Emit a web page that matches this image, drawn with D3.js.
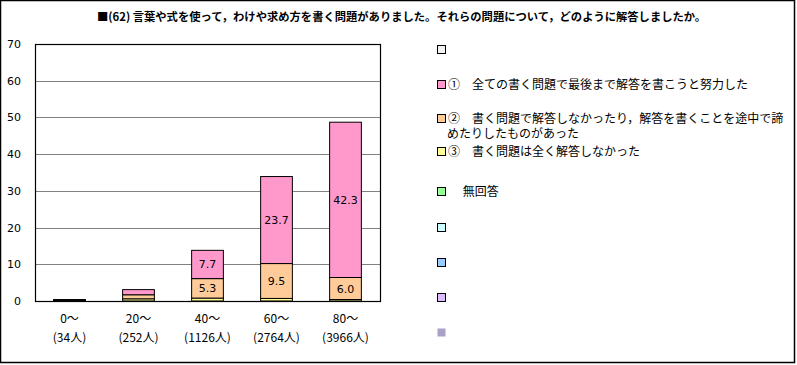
<!DOCTYPE html>
<html><head><meta charset="utf-8">
<script src="https://cdn.jsdelivr.net/npm/d3@7"></script>
<style>body{margin:0;background:#fff}svg{display:block}</style>
</head><body>
<script>
const title = "■(62)  言葉や式を使って，わけや求め方を書く問題がありました。それらの問題について，どのように解答しましたか。";
const categories = ["0～", "20～", "40～", "60～", "80～"];
const counts = ["(34人)", "(252人)", "(1126人)", "(2764人)", "(3966人)"];
// series (stack order bottom -> top)
const s3 = [0.2, 0.6, 0.8, 0.7, 0.4];      // ③
const s2 = [0.1, 1.1, 5.3, 9.5, 6.0];      // ②
const s1 = [0.1, 1.4, 7.7, 23.7, 42.3];    // ①
const sNA = [0.0, 0.0, 0.0, 0.0, 0.0];     // 無回答
const yTicks = [0, 10, 20, 30, 40, 50, 60, 70];
const legendNames = ["", "①　全ての書く問題で最後まで解答を書こうと努力した",
  "②　書く問題で解答しなかったり，解答を書くことを途中で諦|めたりしたものがあった",
  "③　書く問題は全く解答しなかった", "　 無回答", "", "", "", ""];
const legendColors = ["#f2f2f2", "#ff99cc", "#ffcc99", "#ffff99", "#99ff99", "#ccffff", "#99ccff", "#ddbbff", "#aaa0c8"];
const legendY = [49, 84, 118, 151, 191, 227, 262, 297, 332];

const W = 797, H = 365;
const svg = d3.select("body").append("svg").attr("width", W).attr("height", H);
svg.append("rect").attr("x", 0.5).attr("y", 0.5).attr("width", 794).attr("height", 362)
  .attr("fill", "#fff").attr("stroke", "#000").attr("stroke-width", 1.5);

svg.append("text").attr("x", 97).attr("y", 21).attr("font-family", "Noto Sans CJK JP")
  .attr("font-size", 11.3).attr("font-weight", "bold").text(title);

const L = 35, R = 380, T = 44, B = 301;
const x = d3.scaleBand().domain(categories).range([L, R]).paddingInner(0.54).paddingOuter(0.27);
const y = d3.scaleLinear().domain([0, 70]).range([B, T]);

// gridlines
svg.append("g").selectAll("line").data(yTicks.slice(1, -1)).join("line")
  .attr("x1", L).attr("x2", R).attr("y1", d => Math.round(y(d)) + 0.5).attr("y2", d => Math.round(y(d)) + 0.5)
  .attr("stroke", "#808080").attr("stroke-width", 1);

// y labels
svg.append("g").selectAll("text").data(yTicks).join("text")
  .attr("x", 21).attr("y", d => y(d) + 4).attr("text-anchor", "end")
  .attr("font-family", "DejaVu Sans").attr("font-size", 11).text(d => d);

// stacked bars
const seriesList = [
  {vals: sNA, color: legendColors[4]},
  {vals: s3, color: legendColors[3]},
  {vals: s2, color: legendColors[2]},
  {vals: s1, color: legendColors[1]}
];
const rows = categories.map((c, i) => {
  const o = {cat: c};
  seriesList.forEach((s, k) => o["k" + k] = s.vals[i]);
  return o;
});
const stack = d3.stack().keys(seriesList.map((s, k) => "k" + k))(rows);
stack.forEach((layer, k) => {
  const g = svg.append("g");
  g.selectAll("rect").data(layer).join("rect")
    .attr("x", d => x(d.data.cat)).attr("width", x.bandwidth())
    .attr("y", d => y(d[1])).attr("height", d => y(d[0]) - y(d[1]))
    .attr("fill", seriesList[k].color).attr("stroke", "#000").attr("stroke-width", 1);
  g.selectAll("text").data(layer.filter(d => d[1] - d[0] >= 5)).join("text")
    .attr("x", d => x(d.data.cat) + x.bandwidth() / 2).attr("y", d => (y(d[0]) + y(d[1])) / 2 + 4)
    .attr("text-anchor", "middle").attr("font-family", "DejaVu Sans").attr("font-size", 11)
    .text(d => (d[1] - d[0]).toFixed(1));
});

// plot border
svg.append("rect").attr("x", L + 0.5).attr("y", T + 0.5).attr("width", R - L).attr("height", B - T)
  .attr("fill", "none").attr("stroke", "#000").attr("stroke-width", 1.2);

// x labels
const xl = svg.append("g");
categories.forEach((c, i) => {
  const cx = x(c) + x.bandwidth() / 2;
  xl.append("text").attr("x", cx).attr("y", 323).attr("text-anchor", "middle")
    .attr("font-family", "Noto Sans CJK JP").attr("font-size", 12).text(c);
  xl.append("text").attr("x", cx).attr("y", 342).attr("text-anchor", "middle")
    .attr("font-family", "Noto Sans CJK JP").attr("font-size", 12).text(counts[i]);
});

// legend
const lg = svg.append("g");
legendNames.forEach((n, i) => {
  const cy = legendY[i];
  lg.append("rect").attr("x", 437.5).attr("y", cy - 3.5).attr("width", 8).attr("height", 8)
    .attr("fill", legendColors[i]).attr("stroke", i === 8 ? "none" : "#000").attr("stroke-width", 1);
  const t = lg.append("text").attr("y", cy + 5)
    .attr("font-family", "Noto Sans CJK JP").attr("font-size", 12);
  n.split("|").forEach((line, j) => {
    t.append("tspan").attr("x", j === 0 ? 448 : 447).attr("dy", j === 0 ? 0 : 15).text(line);
  });
});
</script>
</body></html>
